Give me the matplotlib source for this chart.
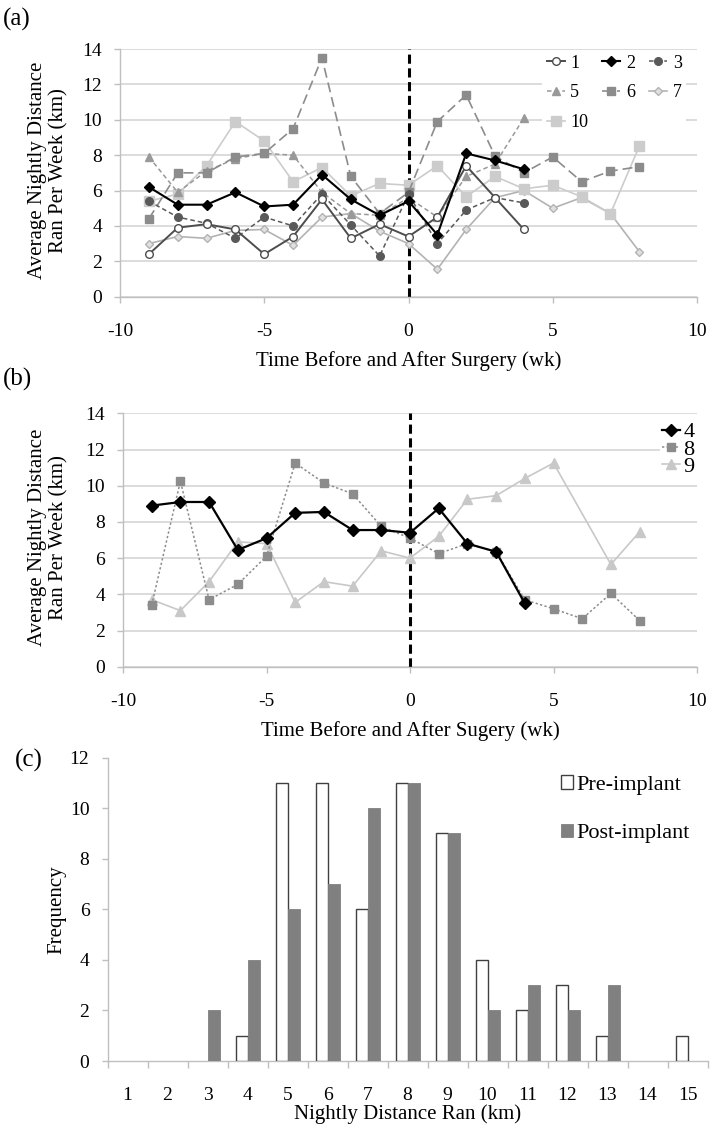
import matplotlib
matplotlib.use('Agg')
import matplotlib.pyplot as plt

plt.rcParams['font.family'] = ['Liberation Serif', 'DejaVu Serif']
plt.rcParams['axes.unicode_minus'] = False

# ---------------- Panel (a) data ----------------
a_x_short = [-9, -8, -7, -6, -5, -4, -3, -2, -1, 0, 1, 2, 3, 4]
a_x_long = [-9, -8, -7, -6, -5, -4, -3, -2, -1, 0, 1, 2, 3, 4, 5, 6, 7, 8]
rat1 = [2.4, 3.9, 4.1, 3.8, 2.4, 3.4, 5.5, 3.3, 4.1, 3.4, 4.5, 7.4, 5.6, 3.8]
rat2 = [6.2, 5.2, 5.2, 5.9, 5.1, 5.2, 6.9, 5.5, 4.6, 5.4, 3.5, 8.1, 7.7, 7.2]
rat3 = [5.4, 4.5, 4.15, 3.3, 4.5, 4.0, 5.8, 4.05, 2.3, 5.8, 3.0, 4.9, 5.6, 5.3]
rat5 = [7.9, 5.9, 7.1, 7.8, 8.1, 8.0, 5.9, 4.7, 4.6, 5.6, 4.5, 6.8, 7.5, 10.1]
rat6 = [4.4, 7.0, 7.0, 7.9, 8.1, 9.5, 13.5, 6.8, 4.7, 5.9, 9.9, 11.4, 7.95, 7.0, 7.9, 6.5, 7.1, 7.35]
rat7 = [3.0, 3.4, 3.3, 3.75, 3.8, 2.9, 4.5, 4.7, 3.7, 3.0, 1.55, 3.8, 5.6, 6.0, 5.0, 5.6, 4.7, 2.55]
rat10 = [5.4, 5.8, 7.4, 9.9, 8.8, 6.5, 7.3, 5.7, 6.4, 6.3, 7.4, 5.65, 6.8, 6.1, 6.3, 5.65, 4.7, 8.5]

# ---------------- Panel (b) data ----------------
b_x4 = [-9, -8, -7, -6, -5, -4, -3, -2, -1, 0, 1, 2, 3, 4]
rat4 = [8.9, 9.1, 9.1, 6.45, 7.1, 8.5, 8.55, 7.55, 7.55, 7.4, 8.75, 6.8, 6.35, 3.5]
b_x8 = [-9, -8, -7, -6, -5, -4, -3, -2, -1, 0, 1, 2, 3, 4, 5, 6, 7, 8]
rat8 = [3.4, 10.25, 3.7, 4.55, 6.1, 11.25, 10.15, 9.55, 7.75, 7.1, 6.25, 6.8, 6.35, 3.7, 3.2, 2.65, 4.05, 2.55]
b_x9 = [-9, -8, -7, -6, -5, -4, -3, -2, -1, 0, 1, 2, 3, 4, 5, 7, 8]
rat9 = [3.7, 3.1, 4.7, 6.9, 6.8, 3.55, 4.7, 4.45, 6.4, 6.0, 7.2, 9.25, 9.45, 10.4, 11.25, 5.65, 7.45]

# ---------------- Panel (c) data ----------------
dist_bins = [1, 2, 3, 4, 5, 6, 7, 8, 9, 10, 11, 12, 13, 14, 15]
pre_freq = [0, 0, 0, 1, 11, 11, 6, 11, 9, 4, 2, 3, 1, 0, 1]
post_freq = [0, 0, 2, 4, 6, 7, 10, 11, 9, 2, 3, 2, 3, 0, 0]

W, H = 710, 1133
fig = plt.figure(figsize=(W / 100, H / 100), dpi=100)

def fr(l, r, top, bot):
    return [l / W, 1 - bot / H, (r - l) / W, (bot - top) / H]

GRID = '#d9d9d9'
AX = '#bfbfbf'
TICKFS = 14
LABFS = 15

def style_line_axes(ax):
    ax.set_xlim(-10, 10)
    ax.set_ylim(0, 14)
    ax.set_xticks([-10, -5, 0, 5, 10])
    ax.set_yticks(range(0, 15, 2))
    ax.yaxis.grid(True, color=GRID, lw=1.3)
    ax.set_axisbelow(True)
    for s in ['top', 'right']:
        ax.spines[s].set_visible(False)
    for s in ['left', 'bottom']:
        ax.spines[s].set_color(AX)
        ax.spines[s].set_linewidth(1.0)
    ax.tick_params(axis='x', direction='out', length=4, width=1, color=AX,
                   pad=15, labelsize=TICKFS)
    ax.tick_params(axis='y', direction='out', length=4, width=1, color=AX,
                   pad=9, labelsize=TICKFS)
    ax.axvline(0, color='black', lw=2.2, ls=(0, (3, 1.5)), zorder=1)

# ---------------- Panel (a) ----------------
axa = fig.add_axes(fr(120, 697, 49, 296.7))
style_line_axes(axa)
ms = 5.5
axa.plot(a_x_short, rat1, color='#4d4d4d', lw=1.4, marker='o', ms=ms,
         mfc='white', mec='#4d4d4d', label='1', zorder=5)
axa.plot(a_x_short, rat2, color='black', lw=1.5, marker='D', ms=ms - 0.5,
         mfc='black', mec='black', label='2', zorder=6)
axa.plot(a_x_short, rat3, color='#595959', lw=1.1, ls=(0, (3, 2)), marker='o', ms=ms,
         mfc='#595959', mec='#595959', label='3', zorder=4)
axa.plot(a_x_short, rat5, color='#999999', lw=1.1, ls=(0, (3, 2)), marker='^', ms=ms + 0.5,
         mfc='#999999', mec='#999999', label='5', zorder=3)
axa.plot(a_x_long, rat6, color='#8c8c8c', lw=1.2, ls=(0, (6, 3)), marker='s', ms=ms + 0.5,
         mfc='#8c8c8c', mec='#8c8c8c', label='6', zorder=3)
axa.plot(a_x_long, rat7, color='#b3b3b3', lw=1.2, marker='D', ms=ms - 1,
         mfc='#e0e0e0', mec='#b3b3b3', label='7', zorder=2)
axa.plot(a_x_long, rat10, color='#cccccc', lw=1.2, marker='s', ms=ms + 1,
         mfc='#cccccc', mec='#cccccc', label='10', zorder=2)
h, l = axa.get_legend_handles_labels()
order = [0, 3, 6, 1, 4, 2, 5]
axa.legend([h[i] for i in order], [l[i] for i in order], ncol=3,
           loc='upper left', bbox_to_anchor=((542 - 120) / 577, 0.995),
           frameon=True, facecolor='white', edgecolor='none', framealpha=1,
           fontsize=13, handlelength=1.0, handletextpad=0.3, columnspacing=0.8,
           labelspacing=0.7, borderpad=0.25, borderaxespad=0)
axa.set_xlabel('Time Before and After Surgery (wk)', fontsize=LABFS, labelpad=8)
axa.set_ylabel('Average Nightly Distance\nRan Per Week (km)', fontsize=LABFS, linespacing=1.1)
axa.yaxis.set_label_coords((68 - 120) / 577, 0.51)

# ---------------- Panel (b) ----------------
axb = fig.add_axes(fr(123, 697, 413.3, 666.7))
style_line_axes(axb)
axb.plot(b_x4, rat4, color='black', lw=1.6, marker='D', ms=6,
         mfc='black', mec='black', label='4', zorder=6)
axb.plot(b_x8, rat8, color='#8c8c8c', lw=1.1, ls=(0, (1.5, 1.5)), marker='s', ms=6,
         mfc='#8c8c8c', mec='#8c8c8c', label='8', zorder=4)
axb.plot(b_x9, rat9, color='#c8c8c8', lw=1.2, marker='^', ms=6.5,
         mfc='#c8c8c8', mec='#c8c8c8', label='9', zorder=3)
axb.legend(loc='upper left', bbox_to_anchor=((660 - 123) / 574, 0.975),
           frameon=True, facecolor='white', edgecolor='none', framealpha=1,
           fontsize=16, handlelength=0.8, handletextpad=0.15,
           labelspacing=-0.15, borderpad=0.1, borderaxespad=0)
axb.set_xlabel('Time Before and After Sugery (wk)', fontsize=LABFS, labelpad=8)
axb.set_ylabel('Average Nightly Distance\nRan Per Week (km)', fontsize=LABFS, linespacing=1.1)
axb.yaxis.set_label_coords((68 - 123) / 574, 0.51)

# ---------------- Panel (c) ----------------
axc = fig.add_axes(fr(107.5, 707.5, 757.5, 1061))
bw = 0.3
pre_x = [x - bw / 2 for x, v in zip(dist_bins, pre_freq) if v > 0]
pre_v = [v for v in pre_freq if v > 0]
post_x = [x + bw / 2 for x, v in zip(dist_bins, post_freq) if v > 0]
post_v = [v for v in post_freq if v > 0]
axc.bar(pre_x, pre_v, width=bw, color='white', edgecolor='#404040', lw=1.0,
        label='Pre-implant', zorder=3)
axc.bar(post_x, post_v, width=bw, color='#808080', edgecolor='#808080', lw=0.6,
        label='Post-implant', zorder=3)
axc.set_xlim(0.5, 15.5)
axc.set_ylim(0, 12)
axc.set_yticks(range(0, 13, 2))
axc.set_xticks(dist_bins)
axc.set_xticks([x + 0.5 for x in [0] + dist_bins], minor=True)
for s in ['top', 'right']:
    axc.spines[s].set_visible(False)
for s in ['left', 'bottom']:
    axc.spines[s].set_color(AX)
    axc.spines[s].set_linewidth(1.0)
axc.tick_params(axis='x', which='major', length=0, pad=19, labelsize=TICKFS)
axc.tick_params(axis='x', which='minor', direction='out', length=5, width=1, color=AX)
axc.tick_params(axis='y', direction='out', length=4, width=1, color=AX, pad=9,
                labelsize=TICKFS)
axc.set_xlabel('Nightly Distance Ran (km)', fontsize=LABFS, labelpad=0)
axc.set_ylabel('Frequency', fontsize=LABFS)
axc.yaxis.set_label_coords((66 - 107.5) / 600, 0.5)
axc.legend(loc='upper left', bbox_to_anchor=((552 - 107.5) / 600, 0.97),
           frameon=False, fontsize=16, handlelength=0.55, handleheight=0.55,
           handletextpad=0.15, labelspacing=1.3, borderaxespad=0)

# ---------------- panel letters ----------------
fig.text(3 / W, 1 - 19 / H, '(a)', fontsize=18, ha='left', va='center')
fig.text(3 / W, 1 - 379 / H, '(b)', fontsize=18, ha='left', va='center')
fig.text(15 / W, 1 - 760 / H, '(c)', fontsize=18, ha='left', va='center')

fig.savefig('out.png', dpi=100)
